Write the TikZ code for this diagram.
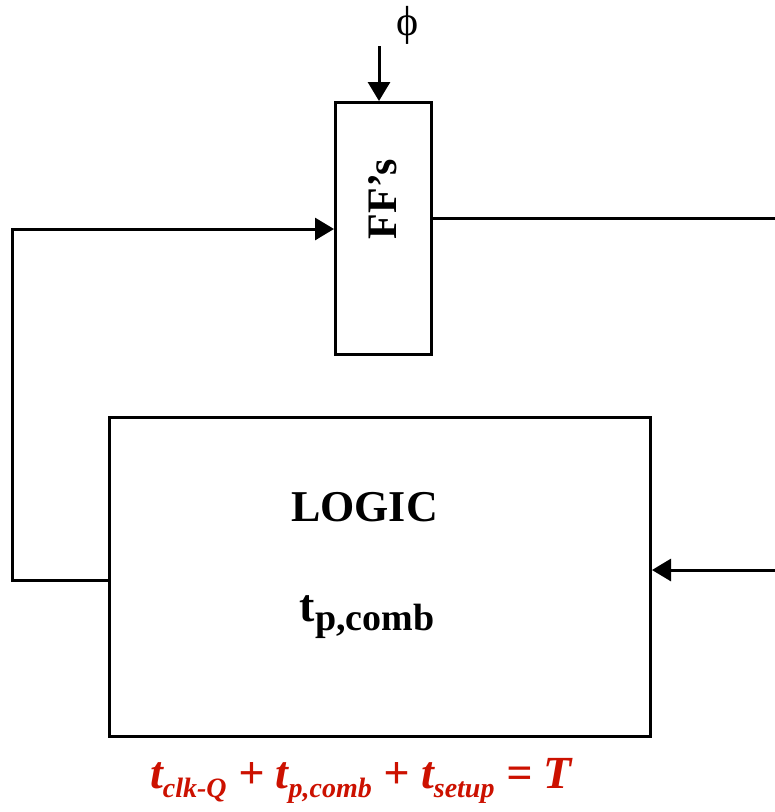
\documentclass[tikz,border=0pt]{standalone}
\usepackage{fontspec}
\setmainfont{Liberation Serif}
\usetikzlibrary{arrows.meta}
\definecolor{eqred}{RGB}{204,17,0}
\newcommand\lowsub[3]{\raisebox{-#1}{\fontsize{#2}{30}\selectfont #3}}

\begin{document}
\begin{tikzpicture}[x=1pt,y=-1pt,text=black,
  wire/.style={line width=3pt},
  flow/.style={wire,-{Triangle[length=19pt,width=22pt]}},
  block/.style={draw=black,fill=white,line width=3pt,inner sep=0pt},
  big/.style={font=\bfseries\fontsize{44}{50}\selectfont},
  eq/.style={font=\bfseries\itshape\fontsize{46}{52}\selectfont,text=eqred}]
\useasboundingbox (0,0) rectangle (775,812);
\fill[white] (0,0) rectangle (775,812);

% FLIP-FLOPS
\node[block,minimum width=96pt,minimum height=252pt] (ff) at (383.5,228.5) {};
\node[big,font=\bfseries\fontsize{42}{48}\selectfont,rotate=90] (fflabel) at (383,199) {FF’s};
\coordinate (clk) at (379,46);
\draw[flow] (clk) -- (clk |- ff.north);
\node[font=\fontsize{42}{46}\selectfont] (phi) at (408,25) {ϕ};

% LOGIC
\node[block,minimum width=541pt,minimum height=319pt] (logic) at (380,577) {};
\node[big] (logiclabel) at (364.5,507) {LOGIC};
\node[font=\bfseries\fontsize{46}{50}\selectfont] (tcomb) at (367,617)
  {t\lowsub{9pt}{38}{p,comb}};

% WIRES
\coordinate (fbbot) at (12,580);
\coordinate (fbtop) at (12,229);
\draw[flow] (logic.west |- fbbot) -- (fbbot) -- (fbtop) -- (fbtop -| ff.west);
\coordinate (outR) at (775,218);
\draw[wire] (ff.east |- outR) -- (outR);
\coordinate (inR) at (775,570);
\draw[flow] (inR) -- (inR -| logic.east);

% TIMING CONSTRAINT
\node[eq] (timing) at (361,781)
  {t\lowsub{9pt}{28}{clk-Q} + t\lowsub{9pt}{28}{p,comb} + t\lowsub{9pt}{28}{setup} = T};
\end{tikzpicture}
\end{document}
